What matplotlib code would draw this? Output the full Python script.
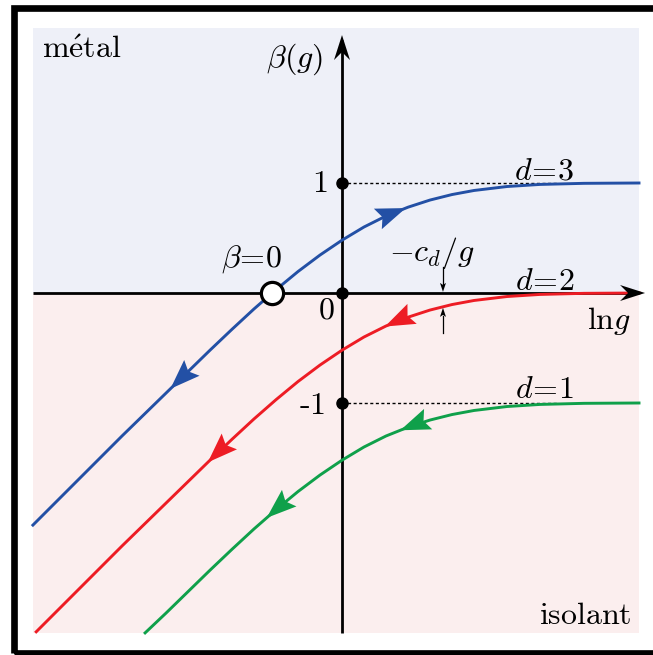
import numpy as np
import matplotlib
matplotlib.use("Agg")
import matplotlib.pyplot as plt
from matplotlib.patches import Rectangle, Polygon

plt.rcParams['mathtext.fontset'] = 'cm'

# Courbes beta(g) (x = ln g, une unite = 110 px)
x_bleu = [-2.81, -2.4, -2.0, -1.6, -1.2, -1.0, -0.8, -0.6, -0.4, -0.2, 0.0,
          0.2, 0.4, 0.6, 0.8, 1.0, 1.2, 1.5, 1.8, 2.2, 2.7]
beta_d3 = [-2.11, -1.70, -1.30, -0.91, -0.52, -0.33, -0.145, 0.03, 0.195, 0.345, 0.48,
           0.60, 0.70, 0.78, 0.845, 0.895, 0.932, 0.968, 0.987, 0.997, 1.0]

x_rouge = [-2.78, -2.4, -2.0, -1.6, -1.2, -1.0, -0.8, -0.6, -0.4, -0.2, 0.0,
           0.2, 0.4, 0.6, 0.8, 1.0, 1.2, 1.5, 1.8, 2.2, 2.7]
beta_d2 = [-3.08, -2.70, -2.30, -1.91, -1.52, -1.33, -1.145, -0.97, -0.805, -0.655, -0.52,
           -0.40, -0.30, -0.22, -0.155, -0.105, -0.068, -0.032, -0.013, -0.003, 0.0]

x_vert = [-1.79, -1.6, -1.2, -1.0, -0.8, -0.6, -0.4, -0.2, 0.0,
          0.2, 0.4, 0.6, 0.8, 1.0, 1.2, 1.5, 1.8, 2.2, 2.7]
beta_d1 = [-3.09, -2.91, -2.52, -2.33, -2.145, -1.97, -1.805, -1.655, -1.52,
           -1.40, -1.30, -1.22, -1.155, -1.105, -1.068, -1.032, -1.013, -1.003, -1.0]

asymptotes = [1, 0, -1]
labels_d = [r'$d\!=\!3$', r'$d\!=\!2$', r'$d\!=\!1$']

bleu = '#2350a5'
rouge = '#ed1c24'
vert = '#0fa04a'

PX = 1 / 110  # unite de donnee par pixel

fig = plt.figure(figsize=(6.53, 6.55), dpi=100)
ax = fig.add_axes([0, 0, 1, 1])
ax.set_xlim(-342 * PX, 311 * PX)
ax.set_ylim(-362 * PX, 293 * PX)
ax.axis('off')

# fonds
xg, xd, yh, yb = -2.809, 2.70, 2.41, -3.09
ax.add_patch(Rectangle((xg, 0), xd - xg, yh, fc='#eef0f8', ec='none', zorder=0))
ax.add_patch(Rectangle((xg, yb), xd - xg, -yb, fc='#fbeeee', ec='none', zorder=0))

# cadre noir
ax.add_patch(Rectangle((-328 * PX, -360 * PX), 1000 * PX, 645.5 * PX, fc='none',
                       ec='black', lw=4.8, zorder=1, clip_on=False))


def tete(x, y, ux, uy, L, W, creux, couleur, z=6):
    n = np.hypot(ux, uy)
    ux, uy = ux / n, uy / n
    nx, ny = -uy, ux
    L, W, creux = L * PX, W * PX, creux * PX
    pts = [(x, y),
           (x - L * ux + W / 2 * nx, y - L * uy + W / 2 * ny),
           (x - (L - creux) * ux, y - (L - creux) * uy),
           (x - L * ux - W / 2 * nx, y - L * uy - W / 2 * ny)]
    ax.add_patch(Polygon(pts, closed=True, fc=couleur, ec='none', zorder=z))


def fleche_courbe(xs, ys, xt, sens, couleur):
    yt = np.interp(xt, xs, ys)
    h = 0.03
    dy = np.interp(xt + sens * h, xs, ys) - np.interp(xt - sens * h, xs, ys)
    tete(xt, yt, sens * 2 * h, dy, 30, 22, 5, couleur, z=5)


# axes
ax.plot([xg, 2.70], [0, 0], color='black', lw=2.0, zorder=2, solid_capstyle='butt')
ax.plot([0, 0], [yb, 2.30], color='black', lw=2.0, zorder=2, solid_capstyle='butt')
tete(2.755, 0, 1, 0, 25, 16, 8, 'black', z=7)
tete(0, 2.345, 0, 1, 25, 16, 8, 'black', z=7)

# pointilles
for a in [1, -1]:
    ax.plot([0, 1.95], [a, a], color='black', lw=1.0, ls=(0, (2.2, 1.8)), zorder=2)

# courbes
ax.plot(x_bleu, beta_d3, color=bleu, lw=2.1, zorder=3)
ax.plot(x_rouge, beta_d2, color=rouge, lw=2.1, zorder=3)
ax.plot(x_vert, beta_d1, color=vert, lw=2.1, zorder=3)

fleche_courbe(x_bleu, beta_d3, 0.58, 1, bleu)
fleche_courbe(x_bleu, beta_d3, -1.56, -1, bleu)
fleche_courbe(x_rouge, beta_d2, 0.39, -1, rouge)
fleche_courbe(x_rouge, beta_d2, -1.22, -1, rouge)
fleche_courbe(x_vert, beta_d1, 0.53, -1, vert)
fleche_courbe(x_vert, beta_d1, -0.685, -1, vert)

# points
ax.plot([0, 0, 0], asymptotes, 'o', color='black', ms=8, zorder=8)
x0 = np.interp(0, beta_d3, x_bleu)
ax.plot([x0], [0], 'o', mfc='white', mec='black', mew=2.3, ms=16, zorder=8)

# petites fleches -c_d/g
xc = 0.918
tete(xc, 0.01, 0, -1, 9, 6, 2, 'black', z=7)
ax.plot([xc, xc], [0.236, 0.08], color='black', lw=0.9, zorder=7)
yc = np.interp(xc, x_rouge, beta_d2)
tete(xc, yc - 0.01, 0, 1, 9, 6, 2, 'black', z=7)
ax.plot([xc, xc], [-0.364, yc - 0.08], color='black', lw=0.9, zorder=7)

# textes
fs = 23
ax.text(-2.727, 2.136, r'$\mathrm{m\acute{e}tal}$', fontsize=fs, ha='left', va='baseline')
ax.text(2.636, -3.009, r'$\mathrm{isolant}$', fontsize=fs, ha='right', va='baseline')
ax.text(-0.173, 2.055, r'$\beta(g)$', fontsize=fs, ha='right', va='baseline')
ax.text(2.427, -0.255, r'$\mathrm{ln}g$', fontsize=fs, ha='center', va='center')
ax.text(-0.136, 1.0, r'$1$', fontsize=fs, ha='right', va='center')
ax.text(-0.141, -0.155, r'$0$', fontsize=fs, ha='center', va='center')
ax.text(-0.155, -1.02, r'$\text{-}1$', fontsize=fs, ha='right', va='center')
ax.text(-0.818, 0.309, r'$\beta\!=\!0$', fontsize=fs, ha='center', va='center')
ax.text(0.818, 0.364, r'$-c_{d}/g$', fontsize=fs, ha='center', va='center')
for lab, yl in zip(labels_d, [1.109, 0.109, -0.873]):
    ax.text(1.84, yl, lab, fontsize=fs, ha='center', va='center', zorder=4)

fig.savefig('out.png', dpi=100)
